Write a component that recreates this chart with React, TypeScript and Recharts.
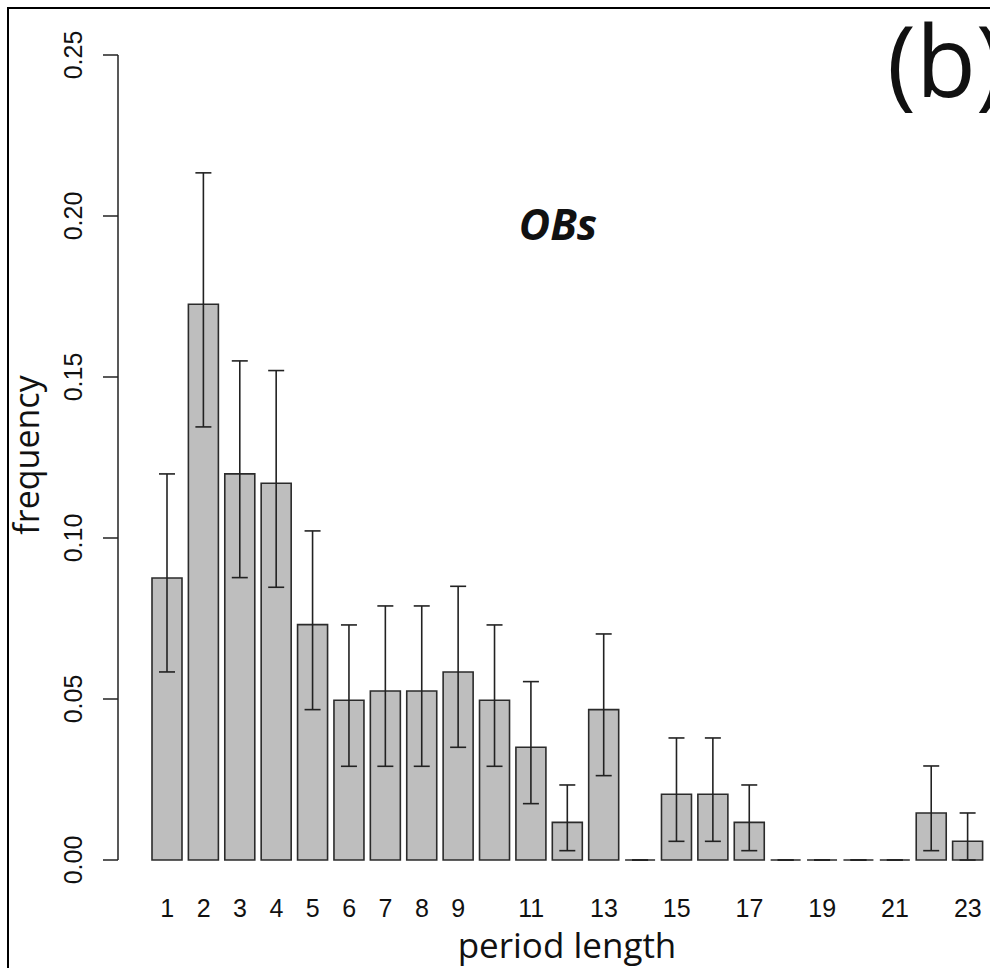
import React from 'react';
import { BarChart, Bar, XAxis, YAxis, ErrorBar } from 'recharts';

const periods = ['1','2','3','4','5','6','7','8','9','10','11','12','13','14','15','16','17','18','19','20','21','22','23'];
const frequency = [0.0876, 0.1726, 0.1199, 0.1170, 0.0731, 0.0496, 0.0525, 0.0525, 0.0584, 0.0496, 0.0350, 0.0117, 0.0467, 0, 0.0204, 0.0204, 0.0117, 0, 0, 0, 0, 0.0146, 0.0058];
const lower = [0.0584, 0.1345, 0.0877, 0.0847, 0.0467, 0.0291, 0.0291, 0.0291, 0.0350, 0.0291, 0.0175, 0.0029, 0.0262, 0, 0.0058, 0.0058, 0.0029, 0, 0, 0, 0, 0.0029, 0];
const upper = [0.1199, 0.2134, 0.1550, 0.1520, 0.1022, 0.0730, 0.0789, 0.0789, 0.0850, 0.0730, 0.0554, 0.0233, 0.0702, 0, 0.0379, 0.0379, 0.0233, 0, 0, 0, 0, 0.0292, 0.0146];
const shownXTicks = ['1','2','3','4','5','6','7','8','9','11','13','15','17','19','21','23'];
const yTicks = [0, 0.05, 0.1, 0.15, 0.2, 0.25];

const data = periods.map((p, i) => ({
  period: p,
  freq: frequency[i],
  err: [frequency[i] - lower[i], upper[i] - frequency[i]],
}));

const TICK_FONT = '"Liberation Sans", Arial, Helvetica, sans-serif';
const TITLE_FONT = '"Open Sans", "Noto Sans", sans-serif';

const BarShape = (props: any) => {
  const { x, y, width, height } = props;
  const d = `M${x},${y} h${width} v${height} h${-width} Z`;
  return <path d={d} fill="#bebebe" stroke="#2b2b2b" strokeWidth={1.6} />;
};

const XTick = (props: any) => {
  const { x, y, payload } = props;
  if (!shownXTicks.includes(String(payload.value))) return null;
  return (
    <text x={x} y={y} dy={57} textAnchor="middle" fontFamily={TICK_FONT} fontSize={25} fill="#111">
      {payload.value}
    </text>
  );
};

const YTick = (props: any) => {
  const { x, y, payload } = props;
  return (
    <text x={x} y={y} transform={`rotate(-90, ${x}, ${y})`} textAnchor="middle" fontFamily={TICK_FONT} fontSize={25} fill="#111">
      {Number(payload.value).toFixed(2)}
    </text>
  );
};

export default function App() {
  return (
    <div style={{ position: 'fixed', left: 0, top: 0, width: 990, height: 968, background: '#fff', overflow: 'hidden' }}>
      <div style={{ position: 'absolute', left: 7, top: 7, width: 1000, height: 1000, borderTop: '2px solid #000', borderLeft: '2px solid #000' }} />
      <div style={{ position: 'absolute', left: 0, top: 0 }}>
        <BarChart width={990} height={968} data={data} margin={{ top: 55, right: 4, bottom: 68, left: 0 }} barSize={30}>
          <XAxis
            dataKey="period"
            axisLine={false}
            tickLine={false}
            tickSize={0}
            tickMargin={0}
            interval={0}
            height={40}
            padding={{ left: 31, right: 0 }}
            tick={<XTick />}
          />
          <YAxis
            width={118}
            domain={[0, 0.25]}
            ticks={yTicks}
            tickSize={15}
            tickMargin={21}
            axisLine={{ stroke: '#222', strokeWidth: 1.5 }}
            tickLine={{ stroke: '#222', strokeWidth: 1.5 }}
            tick={<YTick />}
            interval={0}
          />
          <Bar dataKey="freq" isAnimationActive={false} shape={<BarShape />}>
            <ErrorBar dataKey="err" width={8} stroke="#222" strokeWidth={1.6} direction="y" isAnimationActive={false} />
          </Bar>
        </BarChart>
      </div>
      <svg width={990} height={968} style={{ position: 'absolute', left: 0, top: 0, pointerEvents: 'none' }}>
        <text x={38.5} y={455} transform="rotate(-90, 38.5, 455)" textAnchor="middle" fontFamily={TITLE_FONT} fontSize={34} fill="#111">frequency</text>
        <text x={567} y={958} textAnchor="middle" fontFamily={TITLE_FONT} fontSize={35} fill="#111">period length</text>
        <text x={558} y={240} textAnchor="middle" fontFamily={TITLE_FONT} fontSize={43} fontWeight="bold" fontStyle="italic" fill="#111">OBs</text>
        <text x={887} y={97} textAnchor="start" fontFamily={TITLE_FONT} fontSize={98} fill="#111">(b)</text>
      </svg>
    </div>
  );
}
